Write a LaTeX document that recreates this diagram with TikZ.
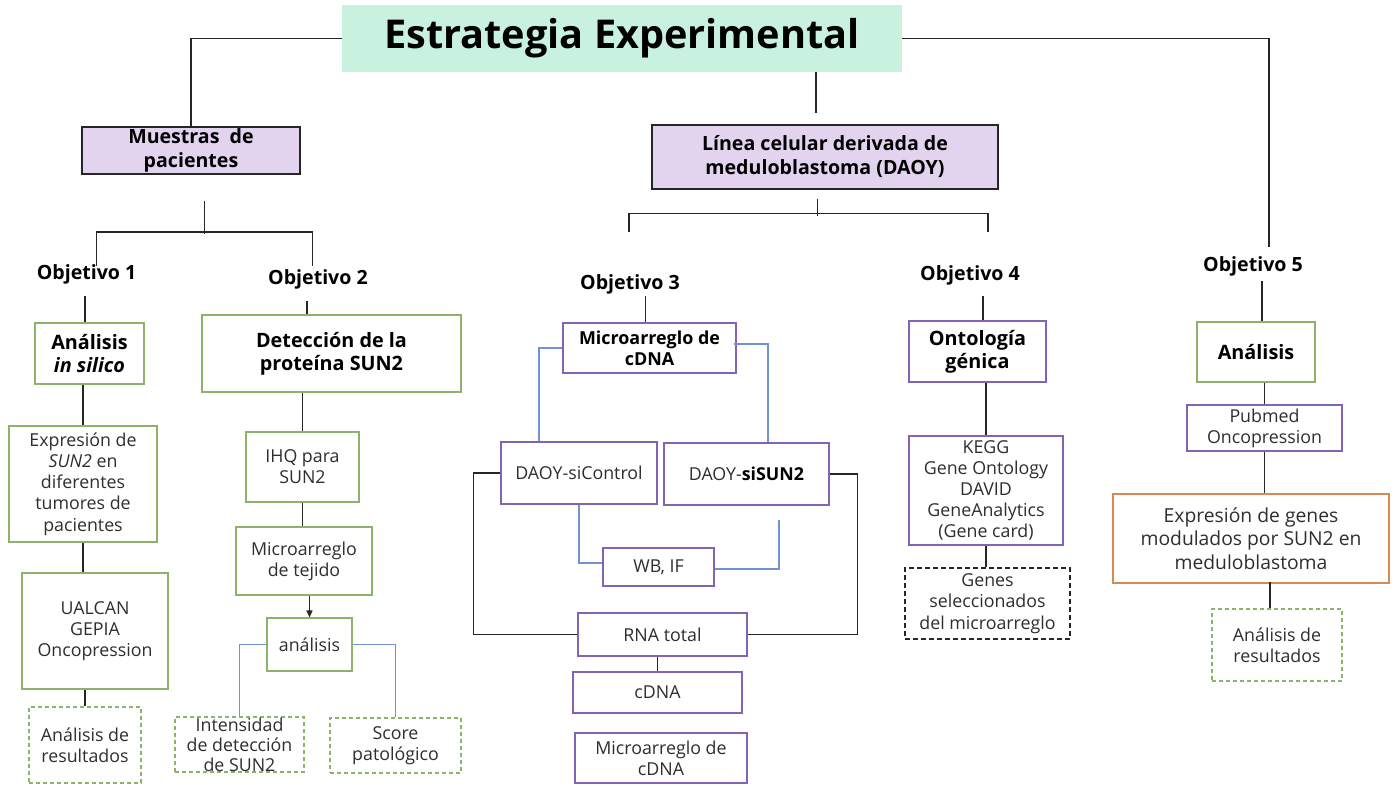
\documentclass[tikz,border=0pt]{standalone}
\usepackage{fontspec}
\setmainfont{Open Sans}
\usetikzlibrary{calc,arrows.meta}
\definecolor{mint}{HTML}{C8F2DF}
\definecolor{lav}{HTML}{E2D3EE}
\definecolor{gbrd}{HTML}{8DB26A}
\definecolor{pbrd}{HTML}{8363B3}
\definecolor{obrd}{HTML}{D88A56}
\definecolor{bln}{HTML}{6F93D6}
\definecolor{txt}{HTML}{2E2E2E}
\newcommand\mybox[7]{\node[#2, minimum width={#5-#3}, minimum height={#6-#4}] (#1) at ({(#3+#5)/2},{(#4+#6)/2}) {#7};}
\tikzset{
  base/.style={inner sep=0pt, align=center, text=txt, font=\fontsize{17.8}{21.2}\selectfont, line width=1.1pt},
  gbox/.style={base, draw=gbrd},
  pbox/.style={base, draw=pbrd},
  gdash/.style={base, draw=gbrd, dash pattern=on 4pt off 3pt},
  kdash/.style={base, draw=black!85, dash pattern=on 5pt off 3pt},
  obox/.style={base, draw=obrd},
  hbox/.style={base, text=black, fill=lav, draw=black!85, font=\bfseries\fontsize{19.6}{24}\selectfont},
  bhead/.style={text=black, font=\bfseries\fontsize{19.8}{23}\selectfont},
  titlebox/.style={inner sep=0pt, fill=mint, font=\bfseries\fontsize{39.7}{46}\selectfont},
  obj/.style={inner sep=0pt, font=\bfseries\fontsize{19.6}{23}\selectfont},
  conn/.style={draw=black!85, line width=1.1pt},
  bline/.style={draw=bln, line width=1.1pt},
}
\begin{document}
\begin{tikzpicture}[x=1pt,y=-1pt]
\fill[white] (0,0) rectangle (1392,785);
\useasboundingbox (0,0) rectangle (1392,785);
% title and main branches
\mybox{title}{titlebox}{342}{5}{902}{72}{Estrategia Experimental}
\mybox{mp}{hbox}{82}{127}{300}{174}{Muestras\ \ de\\pacientes}
\mybox{lin}{hbox}{652}{125}{998}{189}{Línea celular derivada de\\meduloblastoma (DAOY)}
% objetivos
\node[obj] (o1) at (86.6,274) {Objetivo 1};
\node[obj] (o2) at (318,279) {Objetivo 2};
\node[obj] (o3) at (630,284) {Objetivo 3};
\node[obj] (o4) at (970,275.5) {Objetivo 4};
\node[obj] (o5) at (1253,266) {Objetivo 5};
% column 1
\mybox{a1}{gbox,bhead}{35}{323}{144}{384}{Análisis\\\textit{in silico}}
\mybox{a2}{gbox}{9}{426}{157}{542}{Expresión de\\\textit{SUN2} en\\diferentes\\tumores de\\pacientes}
\mybox{a3}{gbox}{22}{573}{168}{689}{UALCAN\\GEPIA\\Oncopression}
\mybox{a4}{gdash}{29}{707}{141}{783}{Análisis de\\resultados}
% column 2
\mybox{b1}{gbox,bhead}{202}{315}{461}{392}{Detección de la\\proteína SUN2}
\mybox{b2}{gbox}{246}{432}{359}{502}{IHQ para\\SUN2}
\mybox{b3}{gbox}{236}{527}{372}{595}{Microarreglo\\de tejido}
\mybox{b4}{gbox}{267}{618}{352}{671}{análisis}
\mybox{b5}{gdash}{175}{717}{304}{772}{}
\node[base] (b5t) at (b5) {Intensidad\\[-1.2pt]de detección\\[-1.2pt]de SUN2};
\mybox{b6}{gdash}{330}{718}{461}{773}{Score\\patológico}
% column 3
\mybox{c1}{pbox,text=black,font=\bfseries\fontsize{17.9}{21}\selectfont}{563}{323}{736}{373}{Microarreglo de\\cDNA}
\mybox{c2}{pbox}{501}{442}{657}{504}{DAOY-siControl}
\mybox{c3}{pbox}{664}{443}{829}{505}{DAOY-\textbf{\color{black}siSUN2}}
\mybox{c4}{pbox}{603}{548}{714}{586}{WB, IF}
\mybox{c6}{pbox}{578}{613}{747}{656}{RNA total}
\mybox{c7}{pbox}{573}{672}{742}{713}{cDNA}
\mybox{c8}{pbox}{575}{733}{747}{783}{Microarreglo de\\cDNA}
% column 4
\mybox{d1}{pbox,bhead}{909}{321}{1046}{382}{Ontología\\génica}
\mybox{d2}{pbox}{909}{436}{1063}{545}{KEGG\\Gene Ontology\\DAVID\\GeneAnalytics\\(Gene card)}
\mybox{d3}{kdash}{905}{568}{1070}{639}{Genes\\seleccionados\\del microarreglo}
% column 5
\mybox{e1}{gbox,bhead}{1197}{322}{1315}{382}{Análisis}
\mybox{e2}{pbox}{1187}{405}{1342}{451}{Pubmed\\Oncopression}
\mybox{e3}{obox,font=\fontsize{19.3}{23.5}\selectfont}{1113}{494}{1389}{583}{Expresión de genes\\modulados por SUN2 en\\meduloblastoma}
\mybox{e4}{gdash}{1212}{609}{1342}{681}{Análisis de\\resultados}
% connectors
\begin{scope}[conn]
\draw (title.west) -| (mp.north);
\draw ($(title.south)+(194,0)$) -- ($(lin.north)+(-9,-11)$);
\draw (title.east) -| ($(o5.north)+(16,-9)$);
\draw ($(mp.south)+(13.5,26)$) -- ($(mp.south)+(13.5,59)$);
\draw ($(o1.north)+(10,2)$) |- ($(o2.north)+(-5.5,-37)$) -- ($(o2.north)+(-5.5,-3)$);
\draw ($(lin.south)+(-7.4,9)$) -- ($(lin.south)+(-7.4,26)$);
\draw ($(o3.north)+(-1,-42)$) |- ($(o4.north)+(18,-52)$) -- ($(o4.north)+(18,-34)$);
\draw ($(a1.north)+(-4.5,-26)$) -- ($(a1.north)+(-4.5,0)$);
\draw ($(b1.north)+(-24.5,-13)$) -- ($(b1.north)+(-24.5,0)$);
\draw ($(c1.north)+(-4,-26)$) -- ($(c1.north)+(-4,0)$);
\draw ($(d1.north)+(5.5,-24)$) -- ($(d1.north)+(5.5,0)$);
\draw ($(e1.north)+(6,-40)$) -- ($(e1.north)+(6,0)$);
\draw (a1.south -| a2.north) -- (a2.north);
\draw (a2.south) -- (a2.south |- a3.north);
\draw (a3.south -| a4.north) -- (a4.north);
\draw (b1.south -| b2.north) -- (b2.north);
\draw (b2.south) -- (b2.south |- b3.north);
\draw[-{Triangle[length=7pt,width=6pt]}] (b3.south -| b4.north) -- (b4.north);
\draw (c2.west) -- ++(-27,0) |- (c6.west);
\draw (c3.east) -- ++(28,0) |- (c6.east);
\draw (c6.south -| c7.north) -- (c7.north);
\draw (d1.south -| d2.north) -- (d2.north);
\draw (d2.south) -- (d2.south |- d3.north);
\draw (e1.south -| e2.north) -- (e2.north);
\draw (e2.south) -- (e2.south |- e3.north);
\draw ($(e4.north)+(-7,0)$) -- ($(e4.north)+(-7,-26)$);
\end{scope}
\begin{scope}[bline]
\draw (b4.west) -| (b5.north);
\draw (b4.east) -| (b6.north);
\draw (c1.west) -| ($(c2.north)+(-40,0)$);
\draw ($(c1.east)+(-3,-4)$) -| ($(c3.north)+(21.5,0)$);
\draw (c2.south) |- ($(c4.west)+(0,-4)$);
\draw ($(c4.east)+(0,2)$) -| ($(c3.south)+(32.5,14)$);
\end{scope}
\end{tikzpicture}
\end{document}
